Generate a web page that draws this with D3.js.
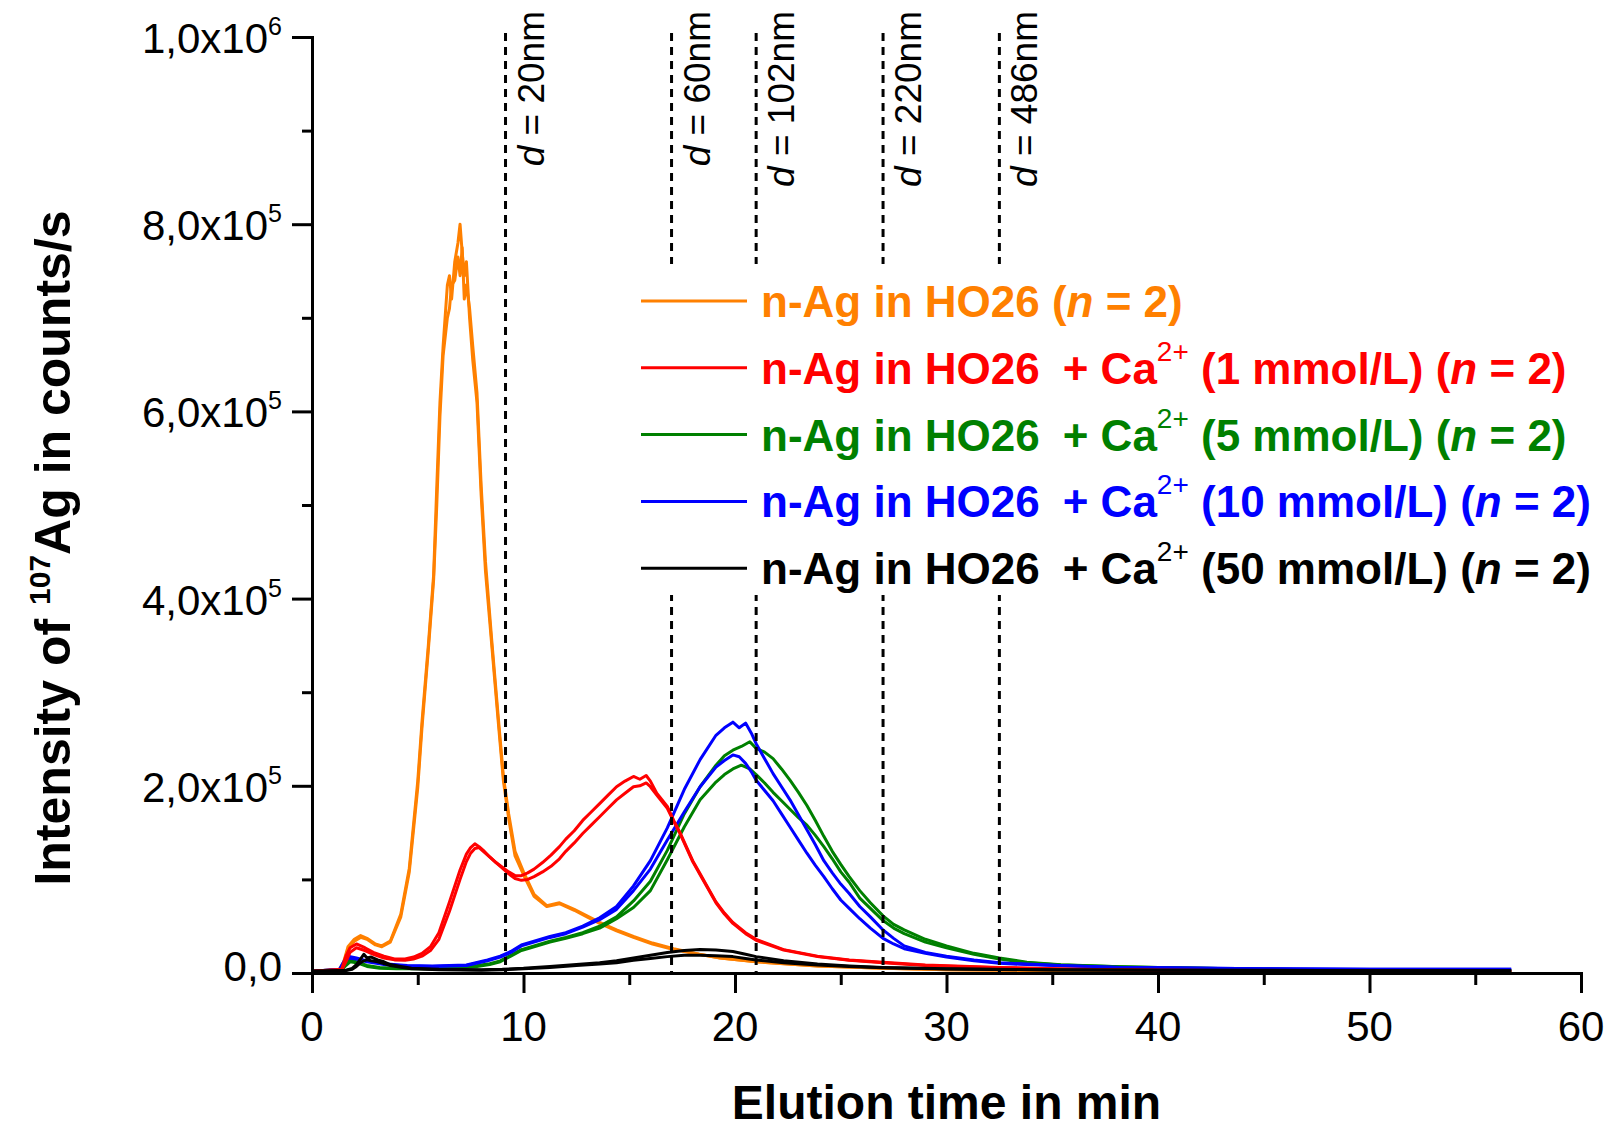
<!DOCTYPE html>
<html><head><meta charset="utf-8">
<script src="https://cdn.jsdelivr.net/npm/d3@7"></script>
<style>body{margin:0;background:#fff} svg{display:block} text{font-family:"Liberation Sans",Arial,Helvetica,sans-serif}</style>
</head><body><svg id="c" width="1609" height="1121"></svg>
<script>
// ---- data (intensity in units of 10^5 counts/s, time in min) ----
const orangeT = [0,0.8,1.3,1.5,1.7,2.0,2.3,2.6,3.0,3.3,3.7,4.2,4.6,5.0,5.2,5.5,5.75,5.9,6.05,6.2,6.4,6.5,6.6,6.75,6.9,7.0,7.1,7.2,7.3,7.45,7.6,7.8,8.0,8.2,8.5,8.8,9.05,9.3,9.6,10.0,10.5,11.1,11.7,12.4,13.0,13.6,14.4,15.2,16.1,17.1,18.3,19.3,21.0,23.9,27,30,35,40,45,50,56.7];
const orangeA = [0.02,0.03,0.04,0.12,0.28,0.36,0.40,0.37,0.31,0.29,0.34,0.63,1.12,2.05,2.68,3.50,4.25,5.20,6.10,6.70,7.35,7.45,7.20,7.60,7.80,8.00,7.70,7.45,7.60,7.00,6.55,6.10,5.10,4.30,3.50,2.70,2.05,1.65,1.25,1.05,0.82,0.71,0.74,0.67,0.60,0.53,0.45,0.38,0.31,0.25,0.20,0.16,0.12,0.075,0.05,0.035,0.025,0.02,0.015,0.015,0.01];
const orangeB = [0.02,0.03,0.04,0.10,0.26,0.34,0.38,0.36,0.30,0.28,0.33,0.60,1.08,1.98,2.62,3.45,4.20,5.00,5.95,6.60,7.00,7.10,7.35,7.40,7.65,7.45,7.75,7.20,7.35,7.10,6.70,6.20,5.20,4.40,3.55,2.75,2.10,1.70,1.30,1.08,0.84,0.72,0.75,0.68,0.61,0.54,0.46,0.39,0.32,0.26,0.20,0.16,0.12,0.075,0.05,0.035,0.025,0.02,0.015,0.015,0.01];

const redT = [0,1.4,1.6,1.8,2.1,2.5,2.9,3.4,3.9,4.4,4.8,5.2,5.6,6.0,6.5,7.0,7.3,7.5,7.7,7.9,8.1,8.4,8.7,9.0,9.3,9.6,9.9,10.2,10.5,10.9,11.3,11.7,12.0,12.4,12.8,13.2,13.6,14.0,14.4,14.8,15.2,15.5,15.8,16.0,16.3,16.8,17.1,17.4,17.7,18.0,18.35,18.7,19.1,19.5,19.9,20.5,21.0,22.3,23.9,25.4,27.0,29.0,32.5,36,40,45,50,56.7];
const redA = [0.02,0.04,0.18,0.27,0.31,0.27,0.22,0.18,0.15,0.15,0.17,0.21,0.28,0.43,0.76,1.10,1.27,1.34,1.38,1.35,1.31,1.24,1.18,1.13,1.08,1.04,1.04,1.07,1.11,1.18,1.26,1.35,1.43,1.52,1.63,1.72,1.81,1.90,1.99,2.05,2.10,2.07,2.11,2.05,1.92,1.78,1.63,1.50,1.35,1.20,1.06,0.92,0.76,0.64,0.54,0.43,0.36,0.25,0.18,0.14,0.115,0.085,0.06,0.04,0.03,0.025,0.02,0.015];
const redB = [0.02,0.03,0.12,0.22,0.27,0.24,0.20,0.16,0.14,0.135,0.15,0.18,0.24,0.36,0.66,1.00,1.19,1.28,1.33,1.34,1.30,1.24,1.18,1.12,1.06,1.01,0.99,1.00,1.03,1.08,1.14,1.22,1.30,1.39,1.49,1.58,1.67,1.76,1.85,1.92,1.99,2.00,2.03,1.99,1.90,1.76,1.62,1.49,1.34,1.19,1.05,0.91,0.75,0.63,0.53,0.42,0.35,0.245,0.175,0.135,0.11,0.08,0.055,0.04,0.03,0.025,0.02,0.015];

const greenT = [0,1.4,1.6,1.8,2.1,2.6,3.2,4,5,6,7,7.8,8.4,8.9,9.4,9.9,10.5,11.25,12.0,12.8,13.6,14.4,15.2,16.0,16.8,17.6,18.35,19.1,19.5,19.9,20.3,20.7,21.0,21.4,21.8,22.2,22.6,23.0,23.4,23.8,24.2,24.6,25.0,25.4,25.9,26.4,27.0,27.5,28.0,29.0,30.0,31.3,32.5,33.8,35.4,38.2,40,45,50,56.7];
const greenA = [0.02,0.04,0.10,0.14,0.12,0.08,0.06,0.05,0.05,0.05,0.06,0.08,0.10,0.13,0.19,0.25,0.29,0.34,0.38,0.43,0.50,0.60,0.77,0.98,1.31,1.70,1.99,2.22,2.32,2.38,2.42,2.47,2.40,2.36,2.29,2.18,2.06,1.93,1.79,1.63,1.46,1.30,1.16,1.03,0.88,0.75,0.61,0.52,0.46,0.36,0.29,0.21,0.16,0.115,0.088,0.068,0.06,0.04,0.03,0.025];
const greenB = [0.02,0.03,0.08,0.12,0.11,0.07,0.05,0.045,0.045,0.045,0.055,0.07,0.09,0.12,0.18,0.24,0.28,0.33,0.37,0.42,0.48,0.58,0.70,0.88,1.21,1.56,1.85,2.04,2.12,2.18,2.22,2.18,2.12,2.03,1.93,1.84,1.75,1.66,1.58,1.47,1.35,1.22,1.08,0.97,0.80,0.69,0.56,0.48,0.42,0.33,0.27,0.20,0.15,0.11,0.085,0.066,0.06,0.04,0.03,0.025];

const blueT = [0,1.3,1.5,1.7,2.1,2.6,3.4,4.5,5.7,7.3,8.3,8.9,9.4,9.9,10.5,11.25,12.0,12.8,13.6,14.4,15.2,16.0,16.8,17.6,18.35,19.1,19.5,19.9,20.2,20.5,20.8,21.0,21.4,21.8,22.2,22.6,23.0,23.4,23.8,24.2,24.6,25.0,25.4,25.9,26.4,27.0,27.5,28.0,29.0,30.0,31.3,32.5,33.8,35.4,38.2,40,45,50,56.7];
const blueA = [0.02,0.04,0.12,0.18,0.16,0.13,0.10,0.08,0.075,0.085,0.14,0.18,0.23,0.30,0.34,0.39,0.43,0.50,0.59,0.71,0.93,1.20,1.55,1.96,2.28,2.54,2.62,2.68,2.62,2.67,2.55,2.45,2.29,2.13,1.99,1.85,1.69,1.53,1.37,1.20,1.07,0.95,0.85,0.71,0.60,0.46,0.37,0.29,0.22,0.18,0.14,0.11,0.095,0.08,0.06,0.055,0.045,0.04,0.04];
const blueB = [0.02,0.03,0.10,0.16,0.15,0.12,0.09,0.075,0.07,0.08,0.13,0.17,0.22,0.29,0.33,0.38,0.42,0.49,0.57,0.68,0.88,1.11,1.42,1.72,1.99,2.20,2.27,2.33,2.31,2.24,2.14,2.06,1.95,1.84,1.70,1.56,1.42,1.28,1.15,1.03,0.90,0.78,0.69,0.58,0.48,0.37,0.31,0.26,0.21,0.17,0.13,0.105,0.09,0.078,0.06,0.055,0.045,0.04,0.04];

const blackT = [0,1.6,1.9,2.1,2.3,2.45,2.6,2.8,3.1,3.4,3.7,4.2,4.7,6,8,9,10,11.25,12.5,13.6,14.4,15.2,16.0,16.8,17.6,18.35,19.1,19.9,20.5,21.0,22.3,23.9,25.4,27,30,35,40,45,50,56.7];
const blackA = [0.02,0.03,0.05,0.09,0.15,0.20,0.16,0.17,0.14,0.12,0.09,0.07,0.05,0.04,0.035,0.04,0.05,0.07,0.09,0.11,0.13,0.16,0.19,0.22,0.24,0.25,0.245,0.23,0.20,0.175,0.13,0.095,0.075,0.06,0.045,0.035,0.03,0.03,0.025,0.025];
const blackB = [0.02,0.025,0.04,0.07,0.11,0.13,0.14,0.13,0.12,0.10,0.08,0.06,0.045,0.035,0.03,0.035,0.045,0.06,0.08,0.095,0.11,0.135,0.155,0.175,0.19,0.19,0.185,0.175,0.155,0.14,0.11,0.085,0.07,0.055,0.042,0.033,0.03,0.028,0.025,0.025];

const dashT = [9.15, 17, 21, 27, 32.5];
const dashLabels = ["20nm", "60nm", "102nm", "220nm", "486nm"];

const xTicksMajor = [0,10,20,30,40,50,60];
const xTicksMinor = [5,15,25,35,45,55];
const yTicksMajor = [0,2,4,6,8,10];
const yTicksMinor = [1,3,5,7,9];
const yTickMant = ["0,0","2,0x10","4,0x10","6,0x10","8,0x10","1,0x10"];
const yTickExp = ["","5","5","5","5","6"];

const legendConc = [null, "1", "5", "10", "50"];
const seriesColors = ["#FF8000", "#FF0000", "#008000", "#0000FF", "#000000"];

// ---- chart ----
const svg = d3.select("#c");
const x = d3.scaleLinear().domain([0,60]).range([312,1581]);
const y = d3.scaleLinear().domain([0,10]).range([973,37]);

const series = [
  {t: orangeT, reps: [orangeA, orangeB], color: seriesColors[0]},
  {t: greenT, reps: [greenA, greenB], color: seriesColors[2]},
  {t: blueT, reps: [blueA, blueB], color: seriesColors[3]},
  {t: redT, reps: [redA, redB], color: seriesColors[1]},
  {t: blackT, reps: [blackA, blackB], color: seriesColors[4]}
];
const line = d3.line().x(d => x(d[0])).y(d => y(d[1]));
series.forEach(s => {
  s.reps.forEach(vals => {
    svg.append("path")
      .datum(s.t.map((t,i) => [t, vals[i]]))
      .attr("d", line)
      .attr("fill","none").attr("stroke", s.color)
      .attr("stroke-width", 3).attr("stroke-linejoin","round");
  });
});

// dashed size markers
dashT.forEach((t,i) => {
  svg.append("line").attr("x1", x(t)).attr("x2", x(t)).attr("y1", 33).attr("y2", y(0))
    .attr("stroke","#000").attr("stroke-width",3).attr("stroke-dasharray","8,6");
  const tx = svg.append("text").attr("transform", `translate(${x(t)+38},11) rotate(-90)`)
    .attr("text-anchor","end").attr("font-size",37).attr("fill","#000");
  tx.append("tspan").attr("font-style","italic").text("d");
  tx.append("tspan").text(" = " + dashLabels[i]);
});

// legend
svg.append("rect").attr("x",612).attr("y",264).attr("width",997).attr("height",331).attr("fill","#fff");
legendConc.forEach((c,i) => {
  const ly = 301 + i*66.8;
  const col = seriesColors[i];
  svg.append("line").attr("x1",641).attr("x2",747).attr("y1",ly).attr("y2",ly)
    .attr("stroke",col).attr("stroke-width",3);
  const tx = svg.append("text").attr("x",761).attr("y",ly+16).attr("font-size",44)
    .attr("font-weight","bold").attr("fill",col);
  tx.append("tspan").text("n-Ag in HO26");
  if (c === null) {
    tx.append("tspan").text(" (");
  } else {
    tx.append("tspan").attr("dx",23).text("+ Ca");
    tx.append("tspan").attr("font-size",28).attr("font-weight","normal").attr("dy",-23).text("2+");
    tx.append("tspan").attr("dy",23).text(" (" + c + " mmol/L) (");
  }
  tx.append("tspan").attr("font-style","italic").text("n");
  tx.append("tspan").text(" = 2)");
});

// axes
function styleAxis(g){
  g.selectAll("path,line").attr("stroke","#000").attr("stroke-width",3);
  g.select(".domain").attr("stroke-linecap","square");
}
const gx = svg.append("g").attr("transform",`translate(0,${y(0)})`)
  .call(d3.axisBottom(x).tickValues(xTicksMajor).tickSize(20).tickSizeOuter(0).tickFormat(""));
styleAxis(gx);
const gx2 = svg.append("g").attr("transform",`translate(0,${y(0)})`)
  .call(d3.axisBottom(x).tickValues(xTicksMinor).tickSize(12).tickSizeOuter(0).tickFormat(""));
styleAxis(gx2);
const gy = svg.append("g").attr("transform",`translate(${x(0)},0)`)
  .call(d3.axisLeft(y).tickValues(yTicksMajor).tickSize(20).tickSizeOuter(0).tickFormat(""));
styleAxis(gy);
const gy2 = svg.append("g").attr("transform",`translate(${x(0)},0)`)
  .call(d3.axisLeft(y).tickValues(yTicksMinor).tickSize(10).tickSizeOuter(0).tickFormat(""));
styleAxis(gy2);

// tick labels
xTicksMajor.forEach(t => {
  svg.append("text").attr("x", x(t)).attr("y", 1041).attr("text-anchor","middle")
    .attr("font-size",42).attr("fill","#000").text(t);
});
yTicksMajor.forEach((v,i) => {
  const tx = svg.append("text").attr("x",282).attr("y", y(v) + (yTickExp[i] ? 16 : 8))
    .attr("text-anchor","end").attr("font-size",42).attr("fill","#000");
  tx.append("tspan").text(yTickMant[i]);
  if (yTickExp[i]) tx.append("tspan").attr("font-size",25).attr("dy",-18).text(yTickExp[i]);
});

// axis titles
svg.append("text").attr("x", (x(0)+x(60))/2).attr("y",1119).attr("text-anchor","middle")
  .attr("font-size",48).attr("font-weight","bold").attr("fill","#000").text("Elution time in min");
const yt = svg.append("text").attr("transform","translate(70,548) rotate(-90)").attr("text-anchor","middle")
  .attr("font-size",50).attr("font-weight","bold").attr("fill","#000");
yt.append("tspan").text("Intensity of ");
yt.append("tspan").attr("font-size",30).attr("dy",-20).text("107");
yt.append("tspan").attr("dy",20).text("Ag in counts/s");
</script></body></html>
